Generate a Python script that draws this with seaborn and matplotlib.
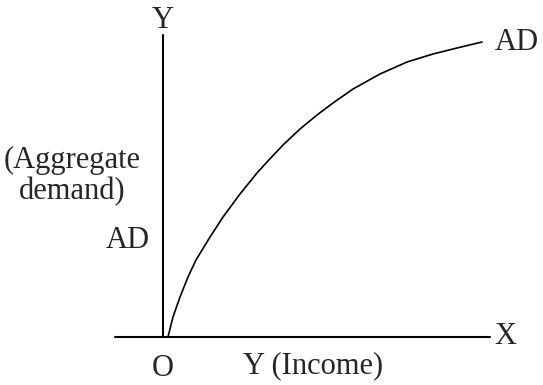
import numpy as np
import pandas as pd
import matplotlib
matplotlib.use('Agg')
import matplotlib.pyplot as plt
import seaborn as sns

# Curva AD (renda x demanda agregada)
renda = [5, 10, 17, 25, 33, 47, 60, 77, 94, 104, 120, 137, 154, 170, 190,
         217, 244, 270, 294, 319]
demanda = [0, 20, 40, 60, 77, 100, 120, 143, 164, 175, 192, 208, 222, 234, 248,
           263, 275, 283, 289, 295]

# Extensao dos eixos
eixo_x = [-48, 327]
eixo_y = [0, 302]

sns.set_theme(style='white')
plt.rcParams['font.family'] = ['Liberation Serif', 'DejaVu Serif']

df = pd.DataFrame({'renda': renda, 'demanda': demanda})

fig = plt.figure(figsize=(5.43, 3.85), dpi=100)
ax = fig.add_axes([0, 0, 1, 1])

ax.plot(eixo_x, [0, 0], color='black', lw=1.5)
ax.plot([0, 0], eixo_y, color='black', lw=1.5)
sns.lineplot(data=df, x='renda', y='demanda', sort=False, color='black', lw=1.2, ax=ax)

fs = 22
ax.text(0, 317, 'Y', ha='center', va='center', fontsize=fs)
ax.text(342, 0, 'X', ha='center', va='center', fontsize=fs)
ax.text(0, -31, 'O', ha='center', va='center', fontsize=fs)
ax.text(150, -29, 'Y (Income)', ha='center', va='center', fontsize=fs)
ax.text(332, 295, 'AD', ha='left', va='center', fontsize=fs)
ax.text(-91, 161, '(Aggregate\ndemand)', ha='center', va='center', fontsize=fs, linespacing=1.1)
ax.text(-35, 97, 'AD', ha='center', va='center', fontsize=fs)

ax.set_xlim(-163, 380)
ax.set_ylim(-48, 337)
ax.axis('off')

fig.savefig('out.png', dpi=100)
